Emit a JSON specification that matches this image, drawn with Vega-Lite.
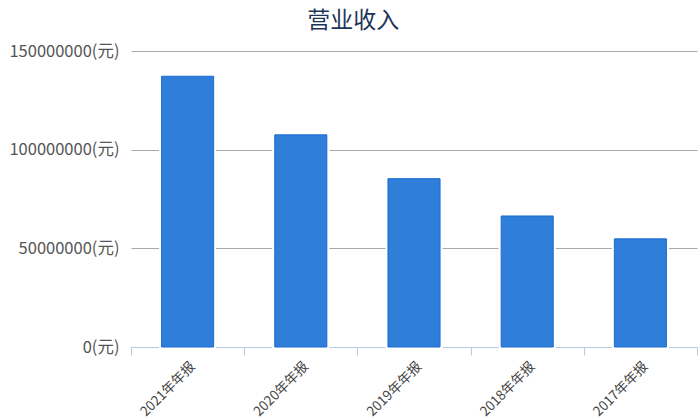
{
  "$schema": "https://vega.github.io/schema/vega-lite/v6.json",
  "width": 566,
  "height": 296,
  "autosize": "none",
  "padding": {"left": 131, "top": 51, "right": 3, "bottom": 73},
  "background": "white",
  "config": {"view": {"stroke": null}},
  "title": {
    "text": "营业收入",
    "anchor": "middle",
    "frame": "bounds",
    "fontSize": 23,
    "fontWeight": "normal",
    "color": "#1d3557",
    "font": "Noto Sans CJK SC",
    "offset": 10
  },
  "data": {
    "values": [
      {"period": "2021年年报", "revenue": 137200000},
      {"period": "2020年年报", "revenue": 107500000},
      {"period": "2019年年报", "revenue": 85300000},
      {"period": "2018年年报", "revenue": 66400000},
      {"period": "2017年年报", "revenue": 54800000}
    ]
  },
  "encoding": {
    "x": {
      "field": "period",
      "type": "nominal",
      "sort": null,
      "title": null,
      "scale": {"paddingInner": 0, "paddingOuter": 0},
      "axis": {
        "labelAngle": -45,
        "labelFontSize": 13.5,
        "labelColor": "#444",
        "labelFont": "Noto Sans CJK SC",
        "domainColor": "#b5cbe3",
        "tickColor": "#b5cbe3",
        "tickBand": "extent",
        "tickSize": 8,
        "labelPadding": 4
      }
    },
    "y": {
      "field": "revenue",
      "type": "quantitative",
      "title": null,
      "scale": {"domain": [0, 150000000]},
      "axis": {
        "values": [0, 50000000, 100000000, 150000000],
        "labelExpr": "format(datum.value, 'd') + '(元)'",
        "labelFontSize": 16.5,
        "labelColor": "#555",
        "labelFont": "Noto Sans CJK SC",
        "domain": false,
        "ticks": false,
        "labelPadding": 12,
        "gridColor": "#a8a8a8",
        "gridWidth": 1
      }
    }
  },
  "layer": [
    {
      "mark": {"type": "bar", "width": {"band": 0.46}, "fill": "white", "stroke": "white", "strokeWidth": 5}
    },
    {
      "mark": {"type": "bar", "width": {"band": 0.46}, "fill": "#2f7ed8", "stroke": "#1a6ad6", "strokeWidth": 1}
    }
  ]
}
